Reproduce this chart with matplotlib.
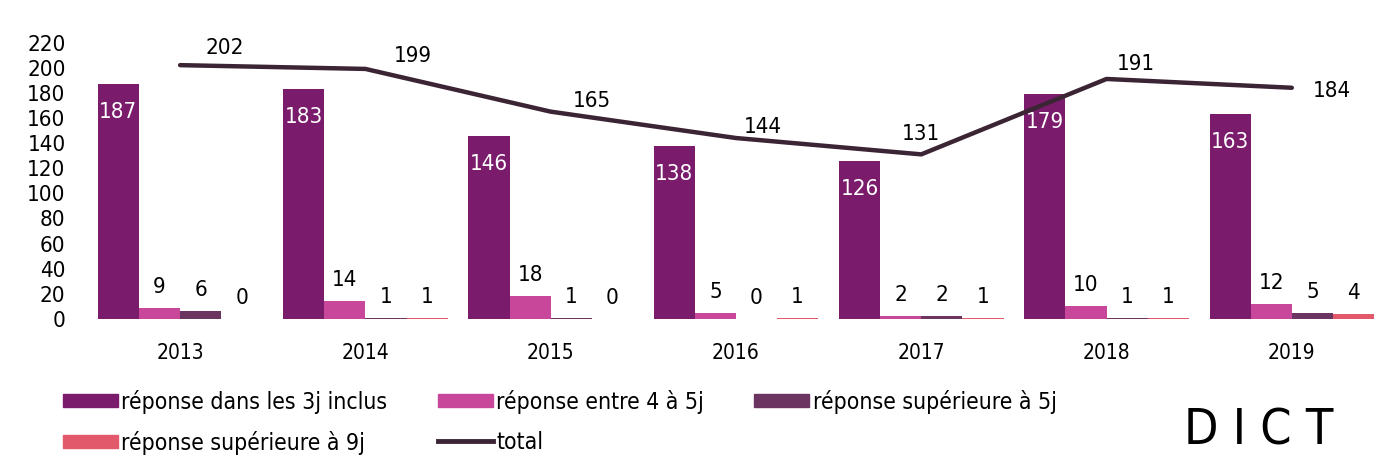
import numpy as np
import matplotlib.pyplot as plt
from matplotlib.lines import Line2D
from matplotlib.patches import Patch

# données DICT par année
annees = ['2013', '2014', '2015', '2016', '2017', '2018', '2019']
rep_3j = [187, 183, 146, 138, 126, 179, 163]
rep_4_5j = [9, 14, 18, 5, 2, 10, 12]
rep_sup_5j = [6, 1, 1, 0, 2, 1, 5]
rep_sup_9j = [0, 1, 0, 1, 1, 1, 4]
total = [202, 199, 165, 144, 131, 191, 184]

noms = ['réponse dans les 3j inclus', 'réponse entre 4 à 5j',
        'réponse supérieure à 5j', 'réponse supérieure à 9j']
couleurs = ['#7a1b6c', '#c8479b', '#6c3461', '#e2596b']
couleur_total = '#3b2535'

plt.rcParams['font.family'] = ['DejaVu Sans']
plt.rcParams['font.stretch'] = 'condensed'

fig = plt.figure(figsize=(13.99, 4.76), dpi=100)
ax = fig.add_axes([0.0608, 0.3193, 0.9292, 0.6072])

x = np.arange(len(annees))
largeur = 0.222
series = [rep_3j, rep_4_5j, rep_sup_5j, rep_sup_9j]
for i, (vals, coul) in enumerate(zip(series, couleurs)):
    pos = x + (i - 1.5) * largeur
    ax.bar(pos, vals, width=largeur, color=coul, zorder=2)
    for px, v in zip(pos, vals):
        if i == 0:
            ax.annotate(str(v), (px, v), xytext=(0, -13), textcoords='offset points',
                        ha='center', va='top', color='white', fontsize=16)
        else:
            ax.annotate(str(v), (px, v), xytext=(0, 8), textcoords='offset points',
                        ha='center', va='bottom', color='black', fontsize=16)

ax.plot(x, total, color=couleur_total, lw=3.2, zorder=3, solid_capstyle='round')
decalages = [(32, 12), (34, 9), (30, 8), (19, 8), (0, 15), (21, 11), (29, -2)]
for xi, v, d in zip(x, total, decalages):
    ax.annotate(str(v), (xi, v), xytext=d, textcoords='offset points',
                ha='center', va='center', color='black', fontsize=16)

ax.set_xlim(-0.513, 6.503)
ax.set_ylim(-4, 226)
ax.set_yticks(range(0, 221, 20))
ax.set_xticks(x)
ax.set_xticklabels(annees, fontsize=15)
ax.tick_params(axis='y', labelsize=16, length=0, pad=14)
ax.tick_params(axis='x', length=0, pad=14)
for s in ax.spines.values():
    s.set_visible(False)

# légende sur deux lignes
poignees = [Patch(color=couleurs[0], label=noms[0]),
            Patch(color=couleurs[3], label=noms[3]),
            Patch(color=couleurs[1], label=noms[1]),
            Line2D([], [], color=couleur_total, lw=3.5, label='total'),
            Patch(color=couleurs[2], label=noms[2])]
fig.legend(handles=poignees, loc='upper left', bbox_to_anchor=(0.03, 0.225),
           ncol=3, frameon=False, fontsize=16.5, handlelength=2.4, handleheight=0.5,
           handletextpad=0.15, columnspacing=2.2, labelspacing=0.75)

fig.text(0.9, 0.095, 'D I C T', fontsize=36, ha='center', va='center')

fig.savefig('out.png', dpi=100)
